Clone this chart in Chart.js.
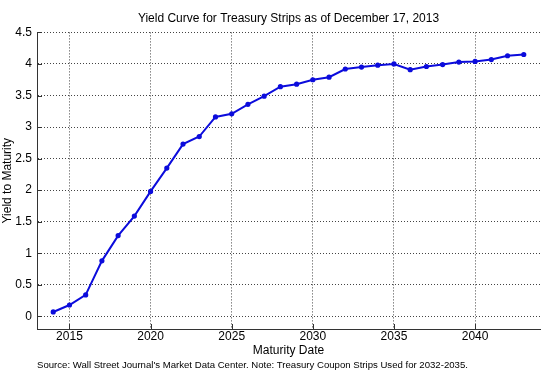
<!DOCTYPE html>
<html>
<head>
<meta charset="utf-8">
<script src="https://cdn.jsdelivr.net/npm/chart.js@4/dist/chart.umd.min.js"></script>
<style>
  body { margin: 0; background: #fff; }
  #wrap { width: 546px; height: 385px; }
</style>
</head>
<body>
<div id="wrap"><canvas id="grafico" width="546" height="385"></canvas></div>
<script>
// Dados da curva
const anos = [2014, 2015, 2016, 2017, 2018, 2019, 2020, 2021, 2022, 2023,
              2024, 2025, 2026, 2027, 2028, 2029, 2030, 2031, 2032, 2033,
              2034, 2035, 2036, 2037, 2038, 2039, 2040, 2041, 2042, 2043];
const rendimentos = [0.07, 0.18, 0.34, 0.88, 1.28, 1.59, 1.98, 2.35, 2.73, 2.85,
                     3.16, 3.21, 3.36, 3.49, 3.64, 3.68, 3.75, 3.79, 3.92, 3.95,
                     3.98, 4.00, 3.91, 3.96, 3.99, 4.03, 4.04, 4.07, 4.13, 4.15];
const ticksX = [2015, 2020, 2025, 2030, 2035, 2040];
const ticksY = [0, 0.5, 1, 1.5, 2, 2.5, 3, 3.5, 4, 4.5];

const fonte = "Arial, 'Liberation Sans', sans-serif";
const corGrade = "#444";

const pontos = anos.map((a, i) => ({ x: a, y: rendimentos[i] }));

new Chart(document.getElementById("grafico").getContext("2d"), {
    type: "line",
    data: {
        datasets: [{
            data: pontos,
            borderColor: "#0c0cdc",
            backgroundColor: "#0c0cdc",
            borderWidth: 2,
            pointRadius: 1.6,
            pointHoverRadius: 1.6,
            tension: 0
        }]
    },
    options: {
        responsive: false,
        animation: false,
        layout: { padding: { left: 0, right: 6, top: 0, bottom: 0 } },
        plugins: {
            legend: { display: false },
            tooltip: { enabled: false },
            title: {
                display: true,
                fullSize: false,
                text: "Yield Curve for Treasury Strips as of December 17, 2013",
                color: "#000",
                font: { family: fonte, size: 12, weight: "normal" },
                padding: { top: 11, bottom: 7 }
            },
            subtitle: {
                display: true,
                position: "bottom",
                align: "start",
                fullSize: false,
                text: "Source: Wall Street Journal's Market Data Center. Note: Treasury Coupon Strips Used for 2032-2035.",
                color: "#000",
                font: { family: fonte, size: 9.6, weight: "normal", lineHeight: 1.25 },
                padding: { top: 2, bottom: 14 }
            }
        },
        scales: {
            x: {
                type: "linear",
                min: 2013,
                max: 2044,
                afterBuildTicks: s => { s.ticks = ticksX.map(v => ({ value: v })); },
                ticks: {
                    color: "#000",
                    font: { family: fonte, size: 12, lineHeight: 1 },
                    padding: 2,
                    maxRotation: 0,
                    callback: v => String(v)
                },
                grid: { color: corGrade, lineWidth: 1, drawTicks: false },
                border: { display: true, color: "#333", width: 1, dash: [1, 2] },
                title: {
                    display: true,
                    text: "Maturity Date",
                    color: "#000",
                    font: { family: fonte, size: 12, lineHeight: 1 },
                    padding: { top: 0, bottom: 0 }
                }
            },
            y: {
                min: -0.2,
                max: 4.5,
                afterBuildTicks: s => { s.ticks = ticksY.map(v => ({ value: v })); },
                afterFit: s => { s.width = 37; },
                ticks: {
                    color: "#000",
                    font: { family: fonte, size: 12 },
                    padding: 5,
                    callback: v => String(v)
                },
                grid: { color: corGrade, lineWidth: 1, drawTicks: false },
                border: { display: true, color: "#333", width: 1, dash: [1, 2] },
                title: {
                    display: true,
                    text: "Yield to Maturity",
                    color: "#000",
                    font: { family: fonte, size: 12 },
                    padding: { top: 0, bottom: 0 }
                }
            }
        }
    },
    plugins: [{
        // eixos sólidos e marcas de tick internas, estilo MATLAB
        id: "eixos",
        beforeDatasetsDraw(chart) {
            const { ctx, chartArea: a, scales } = chart;
            ctx.save();
            ctx.strokeStyle = "#333";
            ctx.lineWidth = 1;
            ctx.setLineDash([]);
            ctx.beginPath();
            ctx.moveTo(a.left + 0.5, a.top);
            ctx.lineTo(a.left + 0.5, a.bottom + 0.5);
            ctx.lineTo(a.right, a.bottom + 0.5);
            ticksX.forEach(v => {
                const px = Math.round(scales.x.getPixelForValue(v)) + 0.5;
                ctx.moveTo(px, a.bottom);
                ctx.lineTo(px, a.bottom - 5);
            });
            ticksY.forEach(v => {
                const py = Math.round(scales.y.getPixelForValue(v)) + 0.5;
                ctx.moveTo(a.left, py);
                ctx.lineTo(a.left + 5, py);
            });
            ctx.stroke();
            ctx.restore();
        }
    }]
});
</script>
</body>
</html>
